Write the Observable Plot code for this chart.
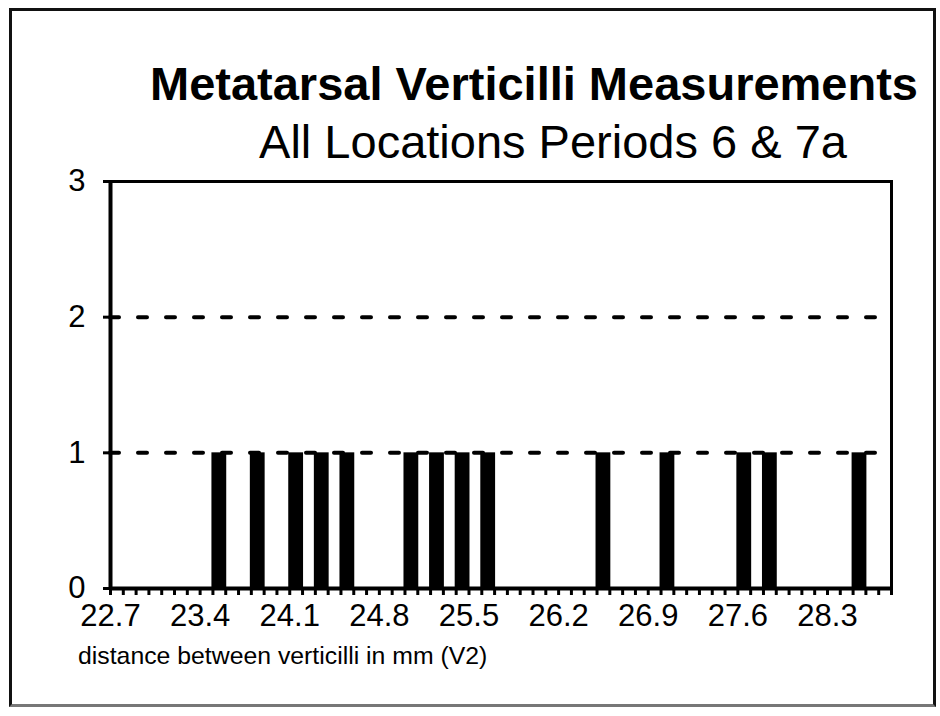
<!DOCTYPE html>
<html>
<head>
<meta charset="utf-8">
<script src="https://cdn.jsdelivr.net/npm/d3@7"></script>
<script src="https://cdn.jsdelivr.net/npm/@observablehq/plot@0.6"></script>
<style>
  html, body { margin: 0; padding: 0; background: #fff; }
  #wrap { position: relative; width: 940px; height: 716px; overflow: hidden; background: #fff;
          font-family: "Liberation Sans", Arial, Helvetica, sans-serif; color: #000; }
  #border { position: absolute; left: 9px; top: 8px; width: 927px; height: 699px; box-sizing: border-box;
            border: 3px solid #111; border-bottom-color: #777; pointer-events: none; }
  .t { position: absolute; white-space: nowrap; transform: translateX(-50%); }
  #title { left: 534px; top: 60px; font-size: 47px; line-height: 47px; font-weight: bold; }
  #subtitle { left: 553px; top: 118px; font-size: 47px; line-height: 47px; }
  #plot { position: absolute; left: 0; top: 172px; }
  #plot svg text { font-size: 31px !important; }
  #xlabel { position: absolute; left: 78px; top: 643px; font-size: 24.8px; line-height: 25px; white-space: nowrap; }
</style>
</head>
<body>
<div id="wrap">
  <div id="title" class="t">Metatarsal Verticilli Measurements</div>
  <div id="subtitle" class="t">All Locations Periods 6 &amp; 7a</div>
  <div id="plot"></div>
  <div id="xlabel">distance between verticilli in mm (V2)</div>
  <div id="border"></div>
</div>
<script>
// Data: lower edge of each 0.1 mm bin with a non-zero count
const binStarts = [23.5, 23.8, 24.1, 24.3, 24.5, 25.0, 25.2, 25.4, 25.6, 26.5, 27.0, 27.6, 27.8, 28.5];
const counts    = [1,    1,    1,    1,    1,    1,    1,    1,    1,    1,    1,    1,    1,    1];
const xTickLabels = ["22.7", "23.4", "24.1", "24.8", "25.5", "26.2", "26.9", "27.6", "28.3"];
const yTickLabels = ["0", "1", "2", "3"];
const gridValues = [1, 2];

const binWidth = 0.1;
const xDomain = [22.7, 28.8];
const minorTicks = d3.range(0, 62).map(i => +(xDomain[0] + i * binWidth).toFixed(1));

const data = binStarts.map((s, i) => ({start: s, end: +(s + binWidth).toFixed(2), count: counts[i]}));

const chart = Plot.plot({
  width: 940,
  height: 468,
  marginTop: 9,
  marginBottom: 52,
  marginLeft: 110,
  marginRight: 49,
  style: {fontFamily: '"Liberation Sans", Arial, Helvetica, sans-serif', fontSize: "31px", color: "#000", overflow: "visible", background: "transparent"},
  x: {domain: xDomain, label: null},
  y: {domain: [0, 3], label: null},
  marks: [
    Plot.ruleY(gridValues, {stroke: "#000", strokeWidth: 4, strokeDasharray: "9,19", strokeLinecap: "round"}),
    Plot.rect(data, {x1: "start", x2: "end", y1: 0, y2: "count", fill: "#000", insetLeft: -1, insetRight: -1}),
    Plot.frame({stroke: "#000", strokeWidth: 3}),
    Plot.ruleX([xDomain[0]], {stroke: "#000", strokeWidth: 4}),
    Plot.ruleY([0], {stroke: "#000", strokeWidth: 4}),
    Plot.axisY({ticks: yTickLabels.map(Number), tickFormat: (d, i) => yTickLabels[i], tickSize: 7, tickPadding: 18, fontSize: 31, strokeWidth: 3, label: null}),
    Plot.axisX({ticks: minorTicks, tickFormat: () => "", tickSize: 7, strokeWidth: 3, label: null}),
    Plot.axisX({ticks: xTickLabels.map(Number), tickFormat: (d, i) => xTickLabels[i], tickSize: 0, tickPadding: 15, fontSize: 31, label: null})
  ]
});
document.getElementById("plot").appendChild(chart);
</script>
</body>
</html>
